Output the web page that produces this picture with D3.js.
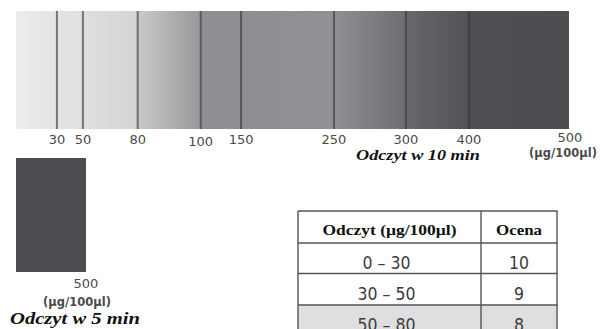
<!DOCTYPE html>
<html><head><meta charset="utf-8">
<script src="https://cdn.jsdelivr.net/npm/d3@7"></script>
<style>body{margin:0;background:#fff}svg{display:block}</style>
</head><body>
<script>
// ---- data ----
const thresholds = [0, 30, 50, 80, 100, 150, 250, 300, 400, 500];
const tickLabels = ["30", "50", "80", "100", "150", "250", "300", "400", "500"];
const segStart = ["#ededed", "#e3e3e3", "#dedede", "#cacacb", "#8e8f92", "#8d8e91", "#8e8f92", "#67686b", "#4e4f52"];
const segEnd   = ["#e4e4e4", "#e0e0e0", "#d5d5d5", "#97989b", "#8e8f92", "#909194", "#6d6e71", "#525356", "#4d4e51"];
const fiveMinValue = 500;
const unitLabel = "(µg/100µl)";
const title10 = "Odczyt w 10 min";
const title5 = "Odczyt w 5 min";
const tableHeader = ["Odczyt (µg/100µl)", "Ocena"];
const tableRanges = ["0 – 30", "30 – 50", "50 – 80"];
const tableScores = ["10", "9", "8"];

// ---- drawing ----
const W = 606, H = 329;
const svg = d3.select("body").append("svg").attr("width", W).attr("height", H);
const bar = {x0: 16, x1: 569, y0: 11, y1: 129};
const frac = [0, .074, .121, .220, .334, .407, .575, .705, .819, 1];
const x = d3.scaleLinear().domain(thresholds)
  .range(frac.map(f => bar.x0 + f * (bar.x1 - bar.x0)));

const defs = svg.append("defs");
const grad = defs.append("linearGradient").attr("id", "g10")
  .attr("gradientUnits", "userSpaceOnUse")
  .attr("x1", bar.x0).attr("x2", bar.x1).attr("y1", 0).attr("y2", 0);
const toOff = v => (x(v) - bar.x0) / (bar.x1 - bar.x0);
thresholds.slice(0, -1).forEach((t, i) => {
  grad.append("stop").attr("offset", toOff(t)).attr("stop-color", segStart[i]);
  grad.append("stop").attr("offset", toOff(thresholds[i + 1])).attr("stop-color", segEnd[i]);
});
svg.append("rect").attr("x", bar.x0).attr("y", bar.y0)
  .attr("width", bar.x1 - bar.x0).attr("height", bar.y1 - bar.y0)
  .attr("fill", "url(#g10)");

// divider lines
svg.selectAll("line.div").data(thresholds.slice(1, -1)).join("line")
  .attr("class", "div")
  .attr("x1", d => x(d)).attr("x2", d => x(d))
  .attr("y1", bar.y0).attr("y2", bar.y1)
  .attr("stroke", "#333").attr("stroke-opacity", 0.62).attr("stroke-width", 2);

// tick labels
const tickVals = thresholds.slice(1);
const sans = "DejaVu Sans, Verdana, sans-serif";
svg.selectAll("text.tick").data(tickVals).join("text")
  .attr("class", "tick")
  .attr("x", d => x(d) + (d === 500 ? 1 : 0))
  .attr("y", d => d === 100 ? 146 : (d === 500 ? 142 : 144))
  .attr("text-anchor", "middle")
  .attr("font-family", sans)
  .attr("font-size", 13).attr("fill", "#4a4a4a")
  .text((d, i) => tickLabels[i]);
svg.append("text").attr("x", x(500) - 6).attr("y", 157)
  .attr("text-anchor", "middle")
  .attr("font-family", sans)
  .attr("font-size", 11.5).attr("font-weight", "bold").attr("fill", "#4a4a4a")
  .text(unitLabel);
svg.append("text").attr("x", 356).attr("y", 160)
  .attr("font-family", "Liberation Serif, Times New Roman, serif")
  .attr("font-style", "italic").attr("font-weight", "bold")
  .attr("font-size", 15).attr("fill", "#111")
  .attr("textLength", 124).attr("lengthAdjust", "spacingAndGlyphs")
  .text(title10);

// 5-minute swatch
const small = {x0: 16, x1: 86, y0: 158, y1: 272};
svg.append("rect").attr("x", small.x0).attr("y", small.y0)
  .attr("width", small.x1 - small.x0).attr("height", small.y1 - small.y0)
  .attr("fill", d3.color(segStart[segStart.length - 1]).darker(0.05));
svg.append("text").attr("x", 86).attr("y", 288).attr("text-anchor", "middle")
  .attr("font-family", sans)
  .attr("font-size", 13).attr("fill", "#4a4a4a").text(String(fiveMinValue));
svg.append("text").attr("x", 77).attr("y", 306).attr("text-anchor", "middle")
  .attr("font-family", sans)
  .attr("font-size", 11.5).attr("font-weight", "bold").attr("fill", "#4a4a4a")
  .text(unitLabel);
svg.append("text").attr("x", 10).attr("y", 324)
  .attr("font-family", "Liberation Serif, Times New Roman, serif")
  .attr("font-style", "italic").attr("font-weight", "bold")
  .attr("font-size", 16).attr("fill", "#111")
  .attr("textLength", 130).attr("lengthAdjust", "spacingAndGlyphs")
  .text(title5);

// table
const tb = {x0: 298, xm: 481, x1: 557};
const rowY = [211, 243, 273.5, 305];
const tg = svg.append("g");
tg.append("rect").attr("x", tb.x0).attr("y", rowY[3])
  .attr("width", tb.x1 - tb.x0).attr("height", H - rowY[3] + 5)
  .attr("fill", "#dfdfe1");
const stroke = "#555";
rowY.forEach(yy => tg.append("line").attr("x1", tb.x0).attr("x2", tb.x1 + 0.6)
  .attr("y1", yy).attr("y2", yy).attr("stroke", stroke).attr("stroke-width", 1.4));
[tb.x0, tb.xm, tb.x1].forEach(xx => tg.append("line").attr("x1", xx).attr("x2", xx)
  .attr("y1", rowY[0]).attr("y2", H + 2).attr("stroke", stroke).attr("stroke-width", 1.4));
const colC = [(tb.x0 + tb.xm) / 2, (tb.xm + tb.x1) / 2];
tg.append("text").attr("x", colC[0]).attr("y", 235).attr("text-anchor", "middle")
  .attr("font-family", "Liberation Serif, Times New Roman, serif")
  .attr("font-weight", "bold").attr("font-size", 15.5)
  .attr("textLength", 134).attr("lengthAdjust", "spacingAndGlyphs")
  .attr("fill", "#111").text(tableHeader[0]);
tg.append("text").attr("x", colC[1]).attr("y", 235).attr("text-anchor", "middle")
  .attr("font-family", "Liberation Serif, Times New Roman, serif")
  .attr("font-weight", "bold").attr("font-size", 15.5)
  .attr("textLength", 46).attr("lengthAdjust", "spacingAndGlyphs")
  .attr("fill", "#111").text(tableHeader[1]);
const narrow = "Liberation Sans Narrow, DejaVu Sans Condensed, sans-serif";
tableRanges.forEach((r, i) => {
  const yy = rowY[i + 1] + 26;
  tg.append("text").attr("x", colC[0] - 3).attr("y", yy).attr("text-anchor", "middle")
    .attr("font-family", narrow)
    .attr("font-size", 17.5).attr("fill", "#3a3a3a").text(r);
  tg.append("text").attr("x", colC[1]).attr("y", yy).attr("text-anchor", "middle")
    .attr("font-family", narrow)
    .attr("font-size", 17.5).attr("fill", "#3a3a3a").text(tableScores[i]);
});
</script>
</body></html>
